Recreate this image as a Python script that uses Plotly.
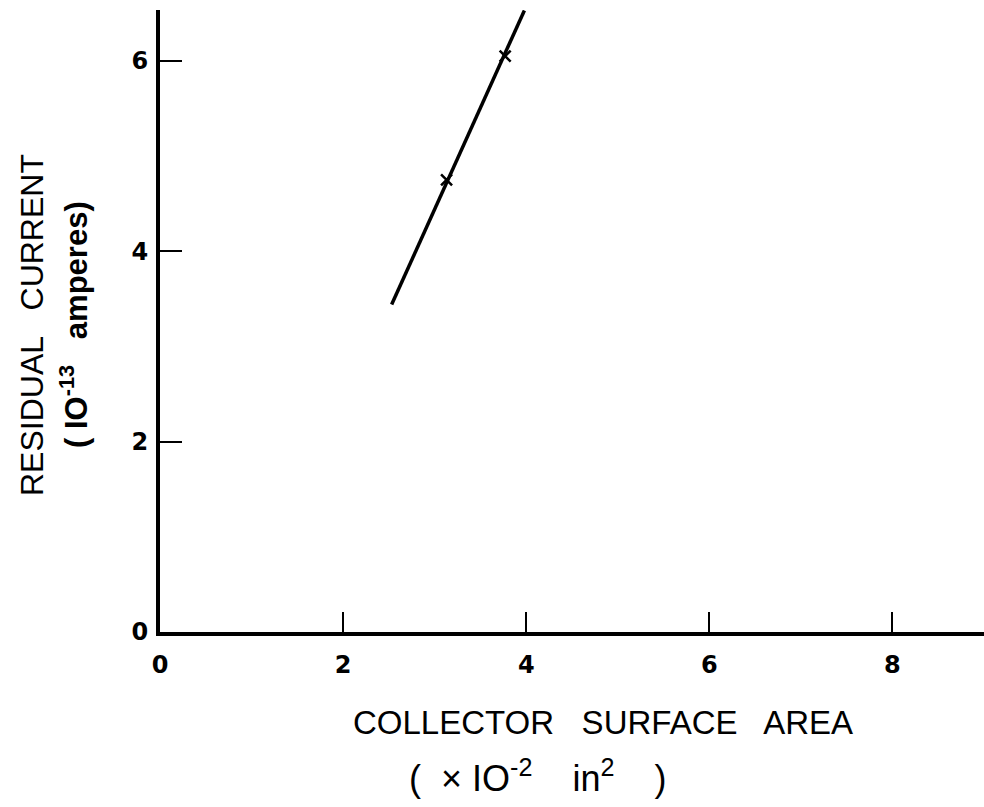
import plotly.graph_objects as go

# Data
line_x = [2.53, 3.98]
line_y = [3.44, 6.53]
pts_x = [3.13, 3.77]
pts_y = [4.75, 6.05]
x_ticks = [0, 2, 4, 6, 8]
y_ticks = [0, 2, 4, 6]

fig = go.Figure()
fig.add_trace(go.Scatter(x=line_x, y=line_y, mode="lines",
                         line=dict(color="black", width=3.5), showlegend=False))
fig.add_trace(go.Scatter(x=pts_x, y=pts_y, mode="markers",
                         marker=dict(symbol="x-thin", size=11, line=dict(color="black", width=2.5)),
                         showlegend=False))

tickfont = dict(family="DejaVu Sans", size=24, color="black", weight="bold")
titlefont = "Liberation Sans Narrow, Liberation Sans, Arial"

fig.update_layout(
    width=984, height=807,
    margin=dict(l=160, r=0, t=10, b=175),
    plot_bgcolor="white", paper_bgcolor="white",
    xaxis=dict(range=[0, 9.0], tickvals=x_ticks, ticktext=[str(v) for v in x_ticks],
               showline=True, linecolor="black", linewidth=4,
               ticks="inside", ticklen=20, tickwidth=1.5, tickcolor="black",
               showgrid=False, zeroline=False, tickfont=tickfont, ticklabelstandoff=8),
    yaxis=dict(range=[0, 6.535], tickvals=y_ticks, ticktext=[str(v) for v in y_ticks],
               showline=True, linecolor="black", linewidth=4,
               ticks="inside", ticklen=22, tickwidth=1.5, tickcolor="black",
               showgrid=False, zeroline=False, tickfont=tickfont, ticklabelstandoff=3),
)

fig.add_annotation(text="RESIDUAL   CURRENT", xref="paper", yref="paper",
                   x=(32-160)/824, y=(632-325)/622, xanchor="center", yanchor="middle",
                   showarrow=False, textangle=-90,
                   font=dict(family=titlefont, size=32, color="black"))
fig.add_annotation(text="( IO<sup>-13</sup>   amperes)", xref="paper", yref="paper",
                   x=(74-160)/824, y=(632-325)/622, xanchor="center", yanchor="middle",
                   showarrow=False, textangle=-90,
                   font=dict(family=titlefont, size=31, color="black", weight="bold"))
fig.add_annotation(text="COLLECTOR   SURFACE   AREA", xref="paper", yref="paper",
                   x=(603-160)/824, y=-(722-632)/622, xanchor="center", yanchor="middle",
                   showarrow=False,
                   font=dict(family=titlefont, size=33, color="black"))
fig.add_annotation(text="(  × IO<sup>-2</sup>    in<sup>2</sup>    )", xref="paper", yref="paper",
                   x=(537-160)/824, y=-(776-632)/622, xanchor="center", yanchor="middle",
                   showarrow=False,
                   font=dict(family=titlefont, size=36, color="black"))

fig.write_html("out.html")
